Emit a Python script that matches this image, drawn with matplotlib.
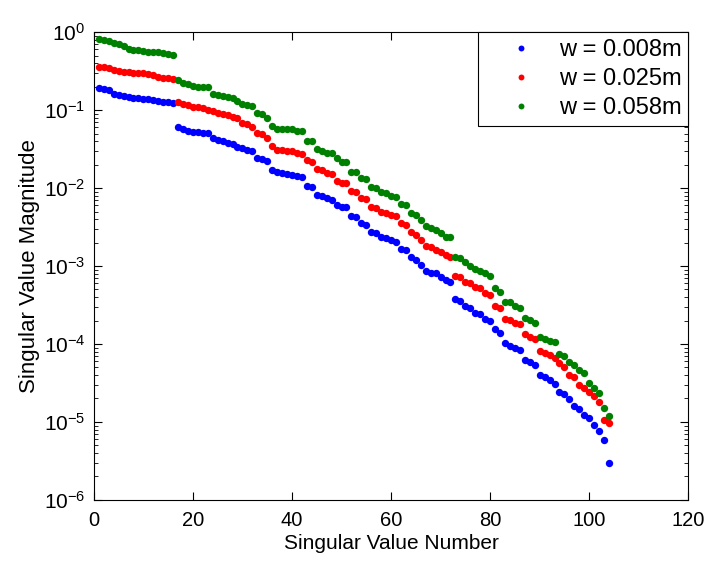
import matplotlib.pyplot as plt
import numpy as np

plt.rcParams['font.family'] = ['Liberation Sans', 'DejaVu Sans']

# singular values, index 1..104
sv_008 = [0.190, 0.184, 0.182, 0.160, 0.156, 0.153, 0.148, 0.144, 0.143, 0.138,
          0.137, 0.134, 0.130, 0.128, 0.127, 0.124, 0.0600, 0.0565, 0.0543, 0.0530,
          0.0520, 0.0512, 0.0502, 0.0434, 0.0412, 0.0401, 0.0381, 0.0366, 0.0339, 0.0323,
          0.0307, 0.0298, 0.0240, 0.0237, 0.0224, 0.0170, 0.0159, 0.0154, 0.0150, 0.0146,
          0.0141, 0.0138, 0.0106, 0.0104, 0.00813, 0.00789, 0.00738, 0.00702, 0.00605, 0.00577,
          0.00570, 0.00437, 0.00429, 0.00352, 0.00336, 0.00270, 0.00263, 0.00238, 0.00226, 0.00215,
          0.00205, 0.00166, 0.00160, 0.00132, 0.00119, 0.00103, 0.000871, 0.000822, 0.000815, 0.000716,
          0.000662, 0.000630, 0.000374, 0.000356, 0.000307, 0.000286, 0.000247, 0.000243, 0.000207, 0.000196,
          0.000154, 0.000137, 0.000102, 9.42e-5, 8.79e-5, 8.38e-5, 6.24e-5, 5.94e-5, 5.38e-5, 4.01e-5,
          3.81e-5, 3.45e-5, 3.07e-5, 2.45e-5, 2.29e-5, 1.95e-5, 1.60e-5, 1.45e-5, 1.23e-5, 1.11e-5,
          9.17e-6, 7.75e-6, 5.88e-6, 3.01e-6]

sv_025 = [0.360, 0.352, 0.342, 0.326, 0.316, 0.307, 0.304, 0.302, 0.298, 0.295,
          0.290, 0.284, 0.268, 0.260, 0.255, 0.250, 0.128, 0.119, 0.116, 0.109,
          0.108, 0.105, 0.100, 0.097, 0.0925, 0.0889, 0.0855, 0.0822, 0.0782, 0.0675,
          0.0655, 0.0611, 0.0502, 0.0500, 0.0434, 0.0349, 0.0307, 0.0305, 0.0301, 0.0298,
          0.0278, 0.0270, 0.0229, 0.0213, 0.0173, 0.0170, 0.0154, 0.0151, 0.0124, 0.0117,
          0.0115, 0.00925, 0.00898, 0.00738, 0.00716, 0.00565, 0.00548, 0.00498, 0.00483, 0.00451,
          0.00433, 0.00357, 0.00336, 0.00275, 0.00250, 0.00215, 0.00181, 0.00174, 0.00160, 0.00153,
          0.00138, 0.00129, 0.000745, 0.000716, 0.000630, 0.000600, 0.000533, 0.000518, 0.000447, 0.000425,
          0.000310, 0.000286, 0.000207, 0.000203, 0.000188, 0.000180, 0.000133, 0.000122, 0.000115, 8.22e-5,
          7.75e-5, 7.23e-5, 6.55e-5, 5.76e-5, 5.02e-5, 4.01e-5, 3.81e-5, 2.98e-5, 2.70e-5, 2.45e-5,
          2.15e-5, 1.79e-5, 1.06e-5, 9.6e-6]

sv_058 = [0.812, 0.782, 0.774, 0.730, 0.702, 0.668, 0.600, 0.598, 0.588, 0.577,
          0.560, 0.556, 0.550, 0.533, 0.522, 0.502, 0.243, 0.220, 0.213, 0.205,
          0.200, 0.199, 0.198, 0.160, 0.158, 0.153, 0.148, 0.141, 0.132, 0.119,
          0.116, 0.114, 0.0906, 0.0880, 0.0782, 0.0624, 0.0571, 0.0570, 0.0568, 0.0565,
          0.0545, 0.0543, 0.0404, 0.0401, 0.0313, 0.0301, 0.0284, 0.0278, 0.0240, 0.0218,
          0.0213, 0.0162, 0.0159, 0.0133, 0.0130, 0.0102, 0.00991, 0.00898, 0.00871, 0.00790,
          0.00770, 0.00630, 0.00605, 0.00483, 0.00451, 0.00389, 0.00326, 0.00304, 0.00290, 0.00262,
          0.00238, 0.00233, 0.00132, 0.00125, 0.00114, 0.00101, 0.000906, 0.000871, 0.000805, 0.000745,
          0.000518, 0.000469, 0.000349, 0.000347, 0.000307, 0.000286, 0.000213, 0.000203, 0.000188, 0.000122,
          0.000115, 0.000110, 0.000107, 7.45e-5, 7.02e-5, 5.93e-5, 5.38e-5, 4.64e-5, 4.29e-5, 3.19e-5,
          2.70e-5, 2.33e-5, 1.50e-5, 1.20e-5]

labels = ['w = 0.008m', 'w = 0.025m', 'w = 0.058m']
colors = ['#0000ff', '#ff0000', '#008000']

fig = plt.figure(figsize=(7.11, 5.63), dpi=100)
ax = fig.add_axes([0.132, 0.112, 0.836, 0.831])

for sv, lab, c in zip([sv_008, sv_025, sv_058], labels, colors):
    n = np.arange(1, len(sv) + 1)
    ax.semilogy(n, sv, 'o', color=c, markersize=5.3, markeredgewidth=0, label=lab)

ax.set_xlim(0, 120)
ax.set_ylim(1e-6, 1e0)
ax.set_xticks(range(0, 121, 20))
ax.tick_params(which='both', direction='in', top=True, right=True)
ax.tick_params(axis='x', labelsize=14.5, pad=8)
ax.tick_params(axis='y', labelsize=15, pad=6)
ax.tick_params(which='major', length=6)
ax.tick_params(which='minor', length=3)
ax.set_xlabel('Singular Value Number', fontsize=15, labelpad=3)
ax.set_ylabel('Singular Value Magnitude', fontsize=16, labelpad=3)

leg = ax.legend(loc='upper right', fontsize=17, borderaxespad=0, frameon=True,
                fancybox=False, framealpha=1, edgecolor='black', markerscale=0.8,
                handlelength=3.0, handletextpad=0.1, borderpad=0.3, labelspacing=0.3)
leg.get_frame().set_linewidth(0.8)

fig.savefig('out.png', dpi=100)
